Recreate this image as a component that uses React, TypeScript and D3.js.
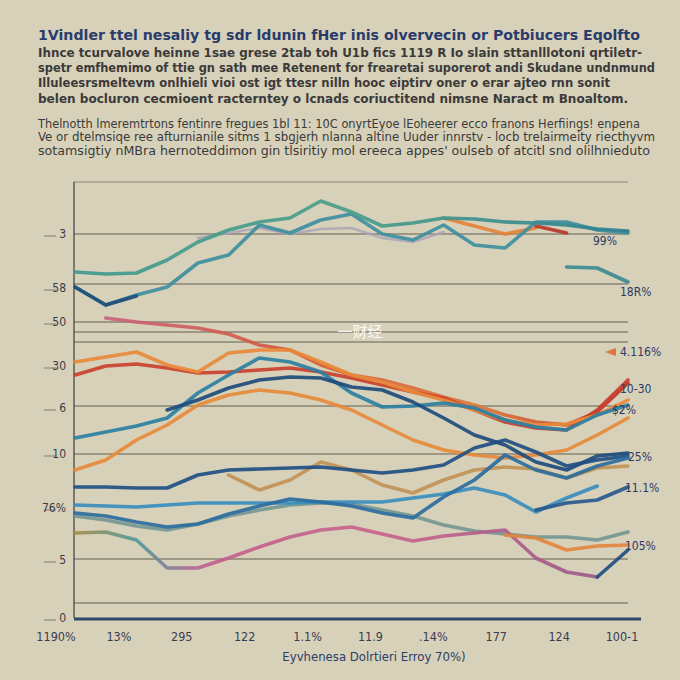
import * as d3 from "d3";

// x positions (period index) and axis text
const periods = [0, 1, 2, 3, 4, 5, 6, 7, 8, 9, 10, 11, 12, 13, 14, 15, 16, 17, 18];
const xTickLabels = ["1190%", "13%", "295", "122", "1.1%", "11.9", ".14%", "177", "124", "100-1"];
const yTickValues = [96, 82.5, 74, 63, 52.5, 41, 27.5, 14.5, 0];
const yTickLabels = ["3", "58", "50", "30", "6", "10", "76%", "5", "0"];
const gridValues = [96, 83.5, 74, 71.5, 69, 53, 41, 14.75, 3.75];

const titleLines = [
  "1Vindler ttel nesaliy tg sdr ldunin fHer inis olvervecin or Potbiucers Eqolfto",
  "Ihnce tcurvalove heinne 1sae grese 2tab toh U1b fics 1119 R Io slain sttanlllotoni qrtiletr-",
  "spetr emfhemimo of ttie gn sath mee Retenent for frearetai suporerot andi Skudane undnmund",
  "Illuleesrsmeltevm onlhieli vioi ost igt ttesr nilln hooc eiptirv oner o erar ajteo rnn sonit",
  "belen bocluron cecmioent racterntey o lcnads coriuctitend nimsne Naract m Bnoaltom.",
];
const subtitleLines = [
  "Thelnotth lmeremtrtons fentinre fregues 1bl 11: 10C onyrtEyoe lEoheerer ecco franons Herfiings! enpena",
  "Ve or dtelmsiqe ree afturnianile sitms 1 sbgjerh nlanna altine Uuder innrstv - locb trelairmeity riecthyvm",
  "sotamsigtiy nMBra hernoteddimon gin tlsiritiy mol ereeca appes' oulseb of atcitl snd olilhnieduto",
];
const xAxisTitle = "Eyvhenesa Dolrtieri Erroy 70%)";
const watermark = "一财经";

const endLabels = ["99%", "18R%", "4.116%", "10-30", "$2%", "25%", "11.1%", "105%"];
const endLabelValues = [94.25, 81.5, 66.5, 57.25, 52, 40.25, 32.5, 18];

// series values (null = no point)
const tealUpper = [86.5, 86, 86.25, 89.5, 94, 97, 99, 100, 104.25, 101.5, 98, 98.75, 100, 99.75, 99, 98.75, 98.25, 97.25, 96.75];
const tealLower = [82.75, 78.25, 80.75, 82.75, 88.75, 90.75, 98.25, 96.25, 99.5, 101, 96, 94.5, 98.25, 93.25, 92.5, 99, 99, 97, 96.25];
const navyStart = [82.75, 78.25, 80.5, null, null, null, null, null, null, null, null, null, null, null, null, null, null, null, null];
const tealShort = [null, null, null, null, null, null, null, null, null, null, null, null, null, null, null, null, 87.75, 87.5, 84];
const lavender = [null, null, null, null, 95, 96.25, 97.5, 96, 97.25, 97.5, 95, 94, 96.5, null, null, null, null, null, null];
const orangeUpper = [null, null, null, null, null, null, null, null, null, null, null, null, 100, 98, 96, 97.5, null, null, null];
const redUpper = [null, null, null, null, null, null, null, null, null, null, null, null, null, null, null, 98, 96.25, null, null];
const pinkRed = [null, 75, 74, 73.25, 72.5, 71, 68.25, 67, 63.25, 60.75, 59.5, 57.5, 55.25, 53.25, 50.75, 49, 48.25, 51.5, 58.75];
const orangeA = [64, 65.25, 66.5, 63.25, 61.5, 66.25, 67, 67, 64, 60.75, 59, 56.5, 54.5, 52, 49.5, 48.25, 48.5, 50.75, 54.5];
const redA = [60.75, 63, 63.5, 62.5, 61.25, 61.5, 62, 62.5, 61.5, 60, 58.25, 56.5, 55, 52, 49, 47.5, 47, 52, 59.5];
const tealBlue = [45, 46.5, 48, 50, 56.25, 60.75, 65, 64, 61.5, 56.25, 52.75, 53, 53.75, 52.5, 49.5, 47.75, 47, 50.75, 53.25];
const orangeB = [37, 39.5, 44.5, 48.25, 53.25, 55.75, 57, 56.25, 54.5, 52, 48.25, 44.5, 42, 40.75, 40, 40.75, 42, 45.75, 50];
const navyA = [null, null, null, 52, 54.5, 57.5, 59.5, 60.25, 60, 57.75, 57, 54, 50, 45.75, 43.25, 39, 37, 40.5, 41.25];
const navyB = [32.75, 32.75, 32.5, 32.5, 35.75, 37, 37.25, 37.5, 37.75, 37, 36.25, 37, 38.25, 42.5, 44.5, 41.5, 38, 39.5, 40.5];
const oliveMid = [null, null, null, null, null, 35.75, 32, 34.5, 39, 37, 33.25, 31.25, 34.5, 37, 37.75, 37.25, 35, 37.5, 38];
const skyBlue = [28.25, 28, 27.75, 28.25, 28.75, 28.75, 28.75, 28.75, 29, 29, 29, 30, 31, 32.5, 30.75, 26.5, 30, 33, null];
const navyEnd = [null, null, null, null, null, null, null, null, null, null, null, null, null, null, null, 27, 28.75, 29.5, 32.75];
const steelBlue = [26.25, 25.5, 24, 22.75, 23.5, 26, 28, 29.75, 29, 28, 26.25, 25, 30.25, 34.5, 40.75, 37, 35, 38, 40];
const grayTeal = [25.5, 24.5, 23, 22, 23.5, 25.5, 27, 28.25, 28.75, 28.5, 27, 25.5, 23.25, 21.75, 21, 20.25, 20.25, 19.5, 21.5];
const olivePink = [21.25, 21.5, 19.5, 12.5, 12.5, 15, 17.75, 20.25, 22, 22.75, 21, 19.25, 20.5, 21.25, 22, 15, 11.5, 10.25, null];
const navyRise = [null, null, null, null, null, null, null, null, null, null, null, null, null, null, null, null, null, 10.25, 17];
const orangeLow = [null, null, null, null, null, null, null, null, null, null, null, null, null, null, 20.75, 20, 17, 18, 18.25];

const series: { values: (number | null)[]; stroke: string; width?: number; opacity?: number }[] = [
  { values: lavender, stroke: "#a9a2b8", width: 2.5, opacity: 0.8 },
  { values: orangeUpper, stroke: "#e3833b" },
  { values: redUpper, stroke: "#b8372a" },
  { values: tealLower, stroke: "#3f8ea0" },
  { values: navyStart, stroke: "#1f4e79" },
  { values: tealUpper, stroke: "url(#gTealUp)" },
  { values: tealShort, stroke: "#3b8a92" },
  { values: pinkRed, stroke: "url(#gPinkRed)" },
  { values: redA, stroke: "#c9402e" },
  { values: orangeA, stroke: "#e8893a" },
  { values: orangeB, stroke: "#e68a3a" },
  { values: tealBlue, stroke: "#2b7fa3" },
  { values: navyA, stroke: "#1e4b7c" },
  { values: oliveMid, stroke: "#c08d4d", opacity: 0.85 },
  { values: navyB, stroke: "#1f4f82" },
  { values: grayTeal, stroke: "#6d938f", opacity: 0.85 },
  { values: skyBlue, stroke: "#3a8dbd" },
  { values: steelBlue, stroke: "#2c6d9e" },
  { values: navyEnd, stroke: "#28598c" },
  { values: olivePink, stroke: "url(#gOlivePink)" },
  { values: navyRise, stroke: "#1f4f80" },
  { values: orangeLow, stroke: "#e2873f" },
];

const W = 680;
const H = 680;
const left = 74;
const right = 628;
const top = 182;
const bottom = 618;
const font = "'DejaVu Sans Condensed', 'Liberation Sans Narrow', 'Roboto', sans-serif";

export default function App() {
  const x = d3.scaleLinear().domain([0, 18]).range([left + 1, right]);
  const y = d3.scaleLinear().domain([0, 109]).range([bottom, top]);
  const xl = d3.scalePoint<string>().domain(xTickLabels).range([56, 622]);

  const line = d3
    .line<number | null>()
    .defined((d) => d != null)
    .x((_, i) => x(periods[i]))
    .y((d) => y(d as number));

  return (
    <svg
      width={W}
      height={H}
      style={{ position: "absolute", left: 0, top: 0, background: "#d8d1b9" }}
    >
      <defs>
        <linearGradient id="gTealUp" x1="0" x2="1" y1="0" y2="0">
          <stop offset="0" stopColor="#3f9a8e" />
          <stop offset="0.5" stopColor="#4a9f8c" />
          <stop offset="1" stopColor="#2f8090" />
        </linearGradient>
        <linearGradient id="gPinkRed" x1="0" x2="1" y1="0" y2="0">
          <stop offset="0" stopColor="#c8647e" />
          <stop offset="0.35" stopColor="#d4583a" />
          <stop offset="0.7" stopColor="#e07a3c" />
          <stop offset="1" stopColor="#c0332a" />
        </linearGradient>
        <linearGradient id="gOlivePink" x1="0" x2="1" y1="0" y2="0">
          <stop offset="0" stopColor="#a28d4a" />
          <stop offset="0.12" stopColor="#4f9a9c" />
          <stop offset="0.25" stopColor="#c25f8e" />
          <stop offset="0.6" stopColor="#c9648c" />
          <stop offset="1" stopColor="#9a5a8a" />
        </linearGradient>
      </defs>

      {/* title block */}
      {titleLines.map((t, i) => (
        <text
          key={"t" + i}
          x={38}
          y={[36, 53, 68, 83, 99][i]}
          dominantBaseline="middle"
          fontFamily={font}
          fontWeight="bold"
          fontSize={i === 0 ? 14.5 : 12.5}
          fill={i === 0 ? "#2a3b6c" : "#3b3a3a"}
          textLength={[602, 604, 617, 572, 590][i]}
          lengthAdjust="spacingAndGlyphs"
        >
          {t}
        </text>
      ))}
      {subtitleLines.map((t, i) => (
        <text
          key={"s" + i}
          x={38}
          y={[124, 137, 151][i]}
          dominantBaseline="middle"
          fontFamily={font}
          fontSize={11.5}
          fill="#3a3a3a"
          textLength={[602, 617, 612][i]}
          lengthAdjust="spacingAndGlyphs"
        >
          {t}
        </text>
      ))}

      {/* frame + grid */}
      <line x1={left} x2={right} y1={top} y2={top} stroke="#8a8576" strokeWidth={1} />
      {gridValues.map((v, i) => (
        <line
          key={"g" + i}
          x1={left}
          x2={right}
          y1={y(v)}
          y2={y(v)}
          stroke="#7d786a"
          strokeWidth={1.3}
          opacity={0.85}
        />
      ))}
      <line x1={left} x2={left} y1={top} y2={bottom} stroke="#4a4a48" strokeWidth={1.3} />

      {/* y ticks */}
      {yTickValues.map((v, i) => (
        <g key={"y" + i}>
          <line x1={44} x2={56} y1={y(v) + 2} y2={y(v) + 2} stroke="#6a665c" strokeWidth={0.8} />
          <text
            x={66}
            y={y(v)}
            textAnchor="end"
            dominantBaseline="middle"
            fontFamily={font}
            fontSize={12}
            fill="#3a3a48"
          >
            {yTickLabels[i]}
          </text>
        </g>
      ))}

      {/* series */}
      {series.map((s, i) => (
        <path
          key={"p" + i}
          d={line(s.values) || ""}
          fill="none"
          stroke={s.stroke}
          strokeWidth={s.width ?? 3.6}
          strokeLinejoin="round"
          strokeLinecap="round"
          opacity={s.opacity ?? 0.92}
        />
      ))}

      {/* end labels */}
      {endLabels.map((t, i) => (
        <text
          key={"e" + i}
          x={[593, 620, 620, 620, 612, 628, 625, 625][i]}
          y={y(endLabelValues[i])}
          dominantBaseline="middle"
          fontFamily={font}
          fontSize={12}
          fill="#2b3a66"
        >
          {t}
        </text>
      ))}
      <path
        d={`M605,${y(66.5)} L616,${y(66.5) - 4} L616,${y(66.5) + 4} Z`}
        fill="#e0743a"
      />

      {/* bottom axis */}
      <line x1={left} x2={641} y1={bottom + 1} y2={bottom + 1} stroke="#2d4868" strokeWidth={3} />
      {xTickLabels.map((t) => (
        <text
          key={"x" + t}
          x={xl(t)}
          y={637}
          textAnchor="middle"
          dominantBaseline="middle"
          fontFamily={font}
          fontSize={12.5}
          fill="#3a3c50"
        >
          {t}
        </text>
      ))}
      <text
        x={374}
        y={657}
        textAnchor="middle"
        dominantBaseline="middle"
        fontFamily={font}
        fontSize={13}
        fill="#2c3d68"
      >
        {xAxisTitle}
      </text>

      <text
        x={360}
        y={333}
        textAnchor="middle"
        dominantBaseline="middle"
        fontFamily="'Noto Sans CJK SC', sans-serif"
        fontSize={15}
        fill="#ffffff"
        opacity={0.9}
      >
        {watermark}
      </text>
    </svg>
  );
}
